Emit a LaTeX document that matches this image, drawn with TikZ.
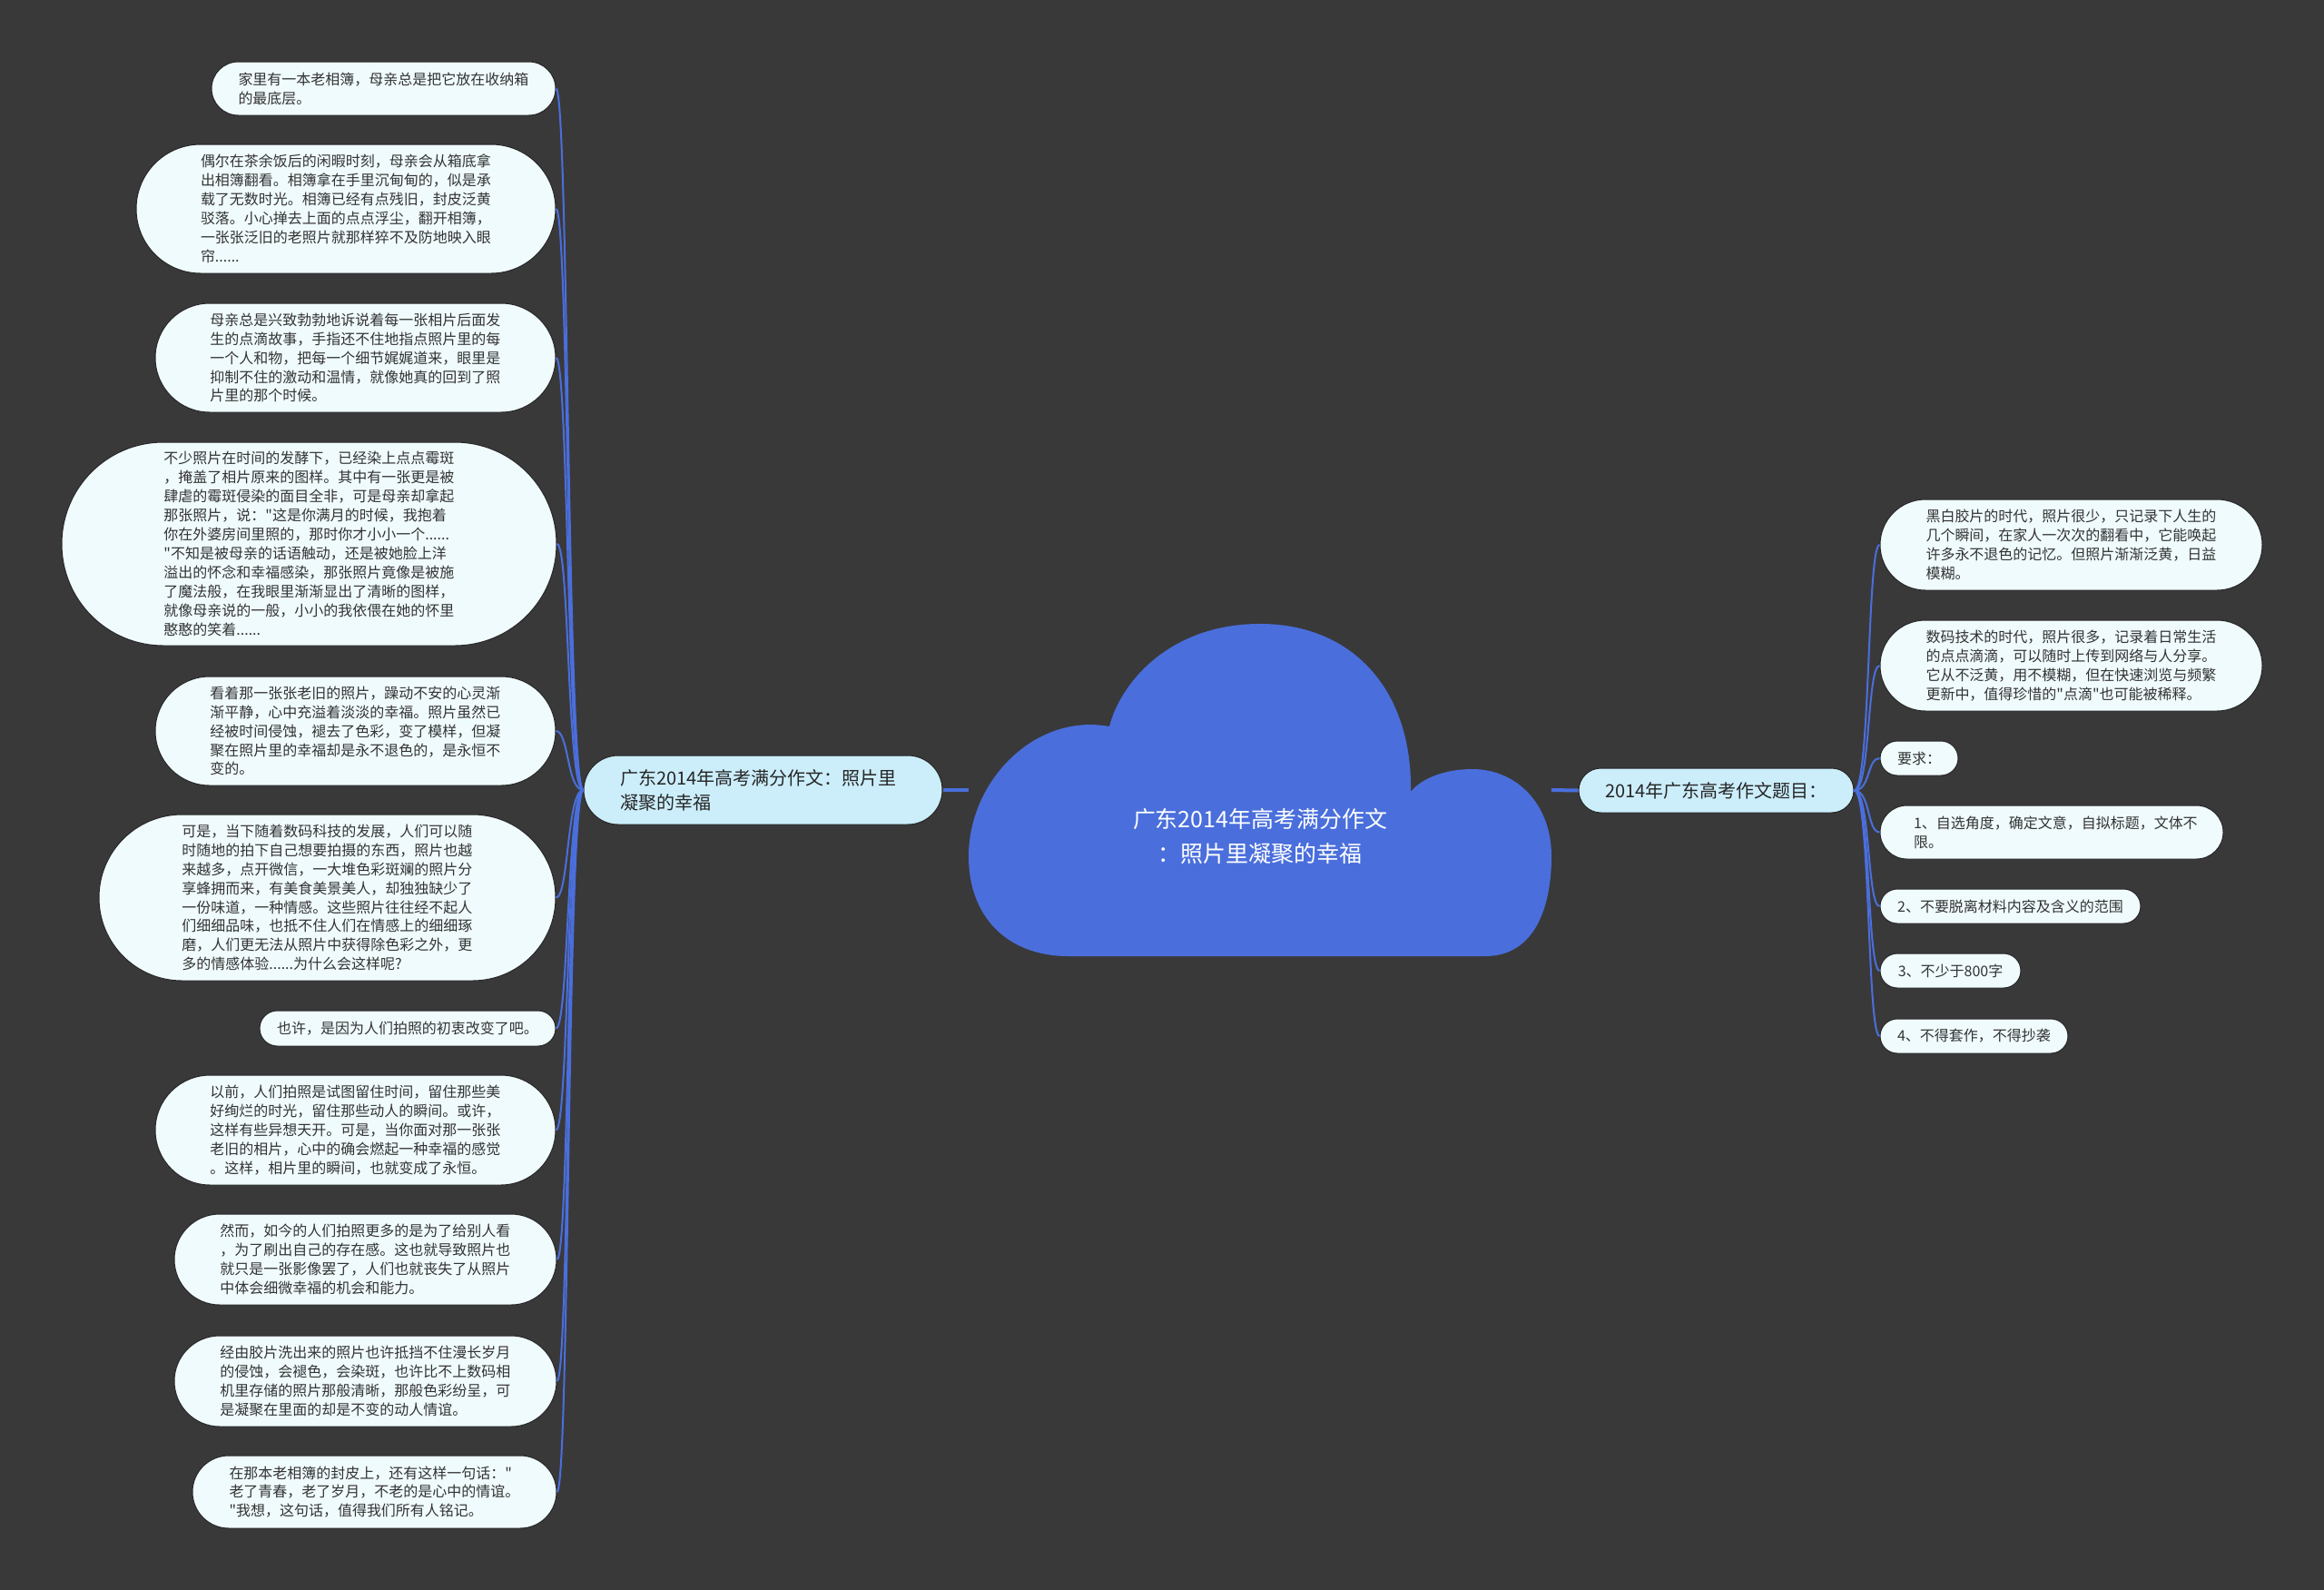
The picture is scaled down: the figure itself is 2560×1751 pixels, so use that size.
\documentclass[tikz,border=0pt]{standalone}
\usepackage{fontspec}
\setmainfont{Noto Sans CJK SC}[Ligatures=TeXOff]
\usetikzlibrary{shapes.misc}
\definecolor{bg}{HTML}{3A393A}
\definecolor{mapblue}{HTML}{4A6FDC}
\definecolor{leaffill}{HTML}{F0FBFD}
\definecolor{topicfill}{HTML}{CCEEFB}
\definecolor{inktext}{HTML}{333333}
\tikzset{
  leaf/.style={rounded rectangle, draw=black!85, line width=0.2mm, fill=leaffill, text=inktext,
    align=left, inner sep=0pt, font=\fontsize{9.1pt}{11.9pt}\selectfont},
  topic/.style={leaf, fill=topicfill, text=black!85, font=\fontsize{11.4pt}{15.4pt}\selectfont},
  branch/.style={mapblue, line width=0.4mm},
  stub/.style={mapblue, line width=0.8mm},
}
\begin{document}
\begin{tikzpicture}[x=0.2mm,y=-0.2mm]
	\fill[bg] (0,0) rectangle (2560,1751);
	\useasboundingbox (0,0) rectangle (2560,1751);
	% centre cloud
	\fill[mapblue] (1177,1053) -- (1636,1053)
		.. controls (1690,1053) and (1709,1000) .. (1709,943)
		.. controls (1709,885) and (1670,847) .. (1622,847)
		.. controls (1590,847) and (1565,858) .. (1554,872)
		.. controls (1556,760) and (1490,687) .. (1388,687)
		.. controls (1290,687) and (1235,750) .. (1222,800)
		.. controls (1140,785) and (1067,860) .. (1067,943)
		.. controls (1067,1010) and (1110,1053) .. (1177,1053) -- cycle;
	\node[text=white,align=center,font=\fontsize{14.2pt}{21.6pt}\selectfont] (root) at (1388,921) {广东2014年高考满分作文\\：照片里凝聚的幸福};
	\coordinate (cloudW) at (1067,870);
	\coordinate (cloudE) at (1709,870);
	% main topics
	\node[topic,minimum width=79mm,minimum height=15.2mm,text width=63mm] (lmain) at (840.5,870) {广东2014年高考满分作文：照片里\\凝聚的幸福};
	\node[topic,minimum width=60.6mm,minimum height=9.8mm] (rmain) at (1890.5,870.5) {2014年广东高考作文题目：};
	\draw[stub] (lmain.east) -- (cloudW);
	\draw[stub] (cloudE) -- (rmain.west);
	% left leaves
	\node[leaf,minimum width=75.8mm,minimum height=11.8mm,text width=64mm] (l1) at (422.5,97.5) {家里有一本老相簿，母亲总是把它放在收纳箱\\的最底层。};
	\node[leaf,minimum width=92.4mm,minimum height=28.4mm,text width=64mm] (l2) at (381,230) {偶尔在茶余饭后的闲暇时刻，母亲会从箱底拿\\出相簿翻看。相簿拿在手里沉甸甸的，似是承\\载了无数时光。相簿已经有点残旧，封皮泛黄\\驳落。小心掸去上面的点点浮尘，翻开相簿，\\一张张泛旧的老照片就那样猝不及防地映入眼\\帘......};
	\node[leaf,minimum width=88.2mm,minimum height=24mm,text width=64mm] (l3) at (391.5,394) {母亲总是兴致勃勃地诉说着每一张相片后面发\\生的点滴故事，手指还不住地指点照片里的每\\一个人和物，把每一个细节娓娓道来，眼里是\\抑制不住的激动和温情，就像她真的回到了照\\片里的那个时候。};
	\node[leaf,minimum width=109mm,minimum height=44.8mm,text width=64mm] (l4) at (340.5,599) {不少照片在时间的发酵下，已经染上点点霉斑\\，掩盖了相片原来的图样。其中有一张更是被\\肆虐的霉斑侵染的面目全非，可是母亲却拿起\\那张照片，说："这是你满月的时候，我抱着\\你在外婆房间里照的，那时你才小小一个......\\"不知是被母亲的话语触动，还是被她脸上洋\\溢出的怀念和幸福感染，那张照片竟像是被施\\了魔法般，在我眼里渐渐显出了清晰的图样，\\就像母亲说的一般，小小的我依偎在她的怀里\\憨憨的笑着......};
	\node[leaf,minimum width=88.2mm,minimum height=24mm,text width=64mm] (l5) at (391.5,805) {看着那一张张老旧的照片，躁动不安的心灵渐\\渐平静，心中充溢着淡淡的幸福。照片虽然已\\经被时间侵蚀，褪去了色彩，变了模样，但凝\\聚在照片里的幸福却是永不退色的，是永恒不\\变的。};
	\node[leaf,minimum width=100.6mm,minimum height=36.6mm,text width=64mm] (l6) at (360.5,988.5) {可是，当下随着数码科技的发展，人们可以随\\时随地的拍下自己想要拍摄的东西，照片也越\\来越多，点开微信，一大堆色彩斑斓的照片分\\享蜂拥而来，有美食美景美人，却独独缺少了\\一份味道，一种情感。这些照片往往经不起人\\们细细品味，也抵不住人们在情感上的细细琢\\磨，人们更无法从照片中获得除色彩之外，更\\多的情感体验......为什么会这样呢?};
	\node[leaf,minimum width=65.2mm,minimum height=7.8mm] (l7) at (449,1132.5) {也许，是因为人们拍照的初衷改变了吧。};
	\node[leaf,minimum width=88.2mm,minimum height=24.2mm,text width=64mm] (l8) at (391.5,1244.5) {以前，人们拍照是试图留住时间，留住那些美\\好绚烂的时光，留住那些动人的瞬间。或许，\\这样有些异想天开。可是，当你面对那一张张\\老旧的相片，心中的确会燃起一种幸福的感觉\\。这样，相片里的瞬间，也就变成了永恒。};
	\node[leaf,minimum width=84.2mm,minimum height=20mm,text width=64mm] (l9) at (402.5,1387) {然而，如今的人们拍照更多的是为了给别人看\\，为了刷出自己的存在感。这也就导致照片也\\就只是一张影像罢了，人们也就丧失了从照片\\中体会细微幸福的机会和能力。};
	\node[leaf,minimum width=84.2mm,minimum height=20mm,text width=64mm] (l10) at (402.5,1521) {经由胶片洗出来的照片也许抵挡不住漫长岁月\\的侵蚀，会褪色，会染斑，也许比不上数码相\\机里存储的照片那般清晰，那般色彩纷呈，可\\是凝聚在里面的却是不变的动人情谊。};
	\node[leaf,minimum width=80.2mm,minimum height=16mm,text width=64mm] (l11) at (412.5,1643) {在那本老相簿的封皮上，还有这样一句话："\\老了青春，老了岁月，不老的是心中的情谊。\\"我想，这句话，值得我们所有人铭记。};
	% right leaves
	\node[leaf,minimum width=84.2mm,minimum height=20mm,text width=64mm] (r1) at (2281.5,600) {黑白胶片的时代，照片很少，只记录下人生的\\几个瞬间，在家人一次次的翻看中，它能唤起\\许多永不退色的记忆。但照片渐渐泛黄，日益\\模糊。};
	\node[leaf,minimum width=84.2mm,minimum height=20mm,text width=64mm] (r2) at (2281.5,733) {数码技术的时代，照片很多，记录着日常生活\\的点点滴滴，可以随时上传到网络与人分享。\\它从不泛黄，用不模糊，但在快速浏览与频繁\\更新中，值得珍惜的"点滴"也可能被稀释。};
	\node[leaf,minimum width=17.2mm,minimum height=7.6mm] (r3) at (2114,835) {要求：};
	\node[leaf,minimum width=75.6mm,minimum height=11.8mm,text width=60.8mm] (r4) at (2260,916.5) {1、自选角度，确定文意，自拟标题，文体不\\限。};
	\node[leaf,minimum width=57.4mm,minimum height=7.6mm] (r5) at (2214.5,998) {2、不要脱离材料内容及含义的范围};
	\node[leaf,minimum width=31mm,minimum height=7.6mm] (r6) at (2148.5,1069) {3、不少于800字};
	\node[leaf,minimum width=41.4mm,minimum height=7.6mm] (r7) at (2174.5,1141) {4、不得套作，不得抄袭};
	% branches
	\foreach \n in {l1,l2,l3,l4,l5,l6,l7,l8,l9,l10,l11}
		\draw[branch] (lmain.west) .. controls +(-18,0) and +(14,0) .. (\n.east);
	\foreach \n in {r1,r2,r3,r4,r5,r6,r7}
		\draw[branch] (rmain.east) .. controls +(18,0) and +(-14,0) .. (\n.west);
\end{tikzpicture}
\end{document}
